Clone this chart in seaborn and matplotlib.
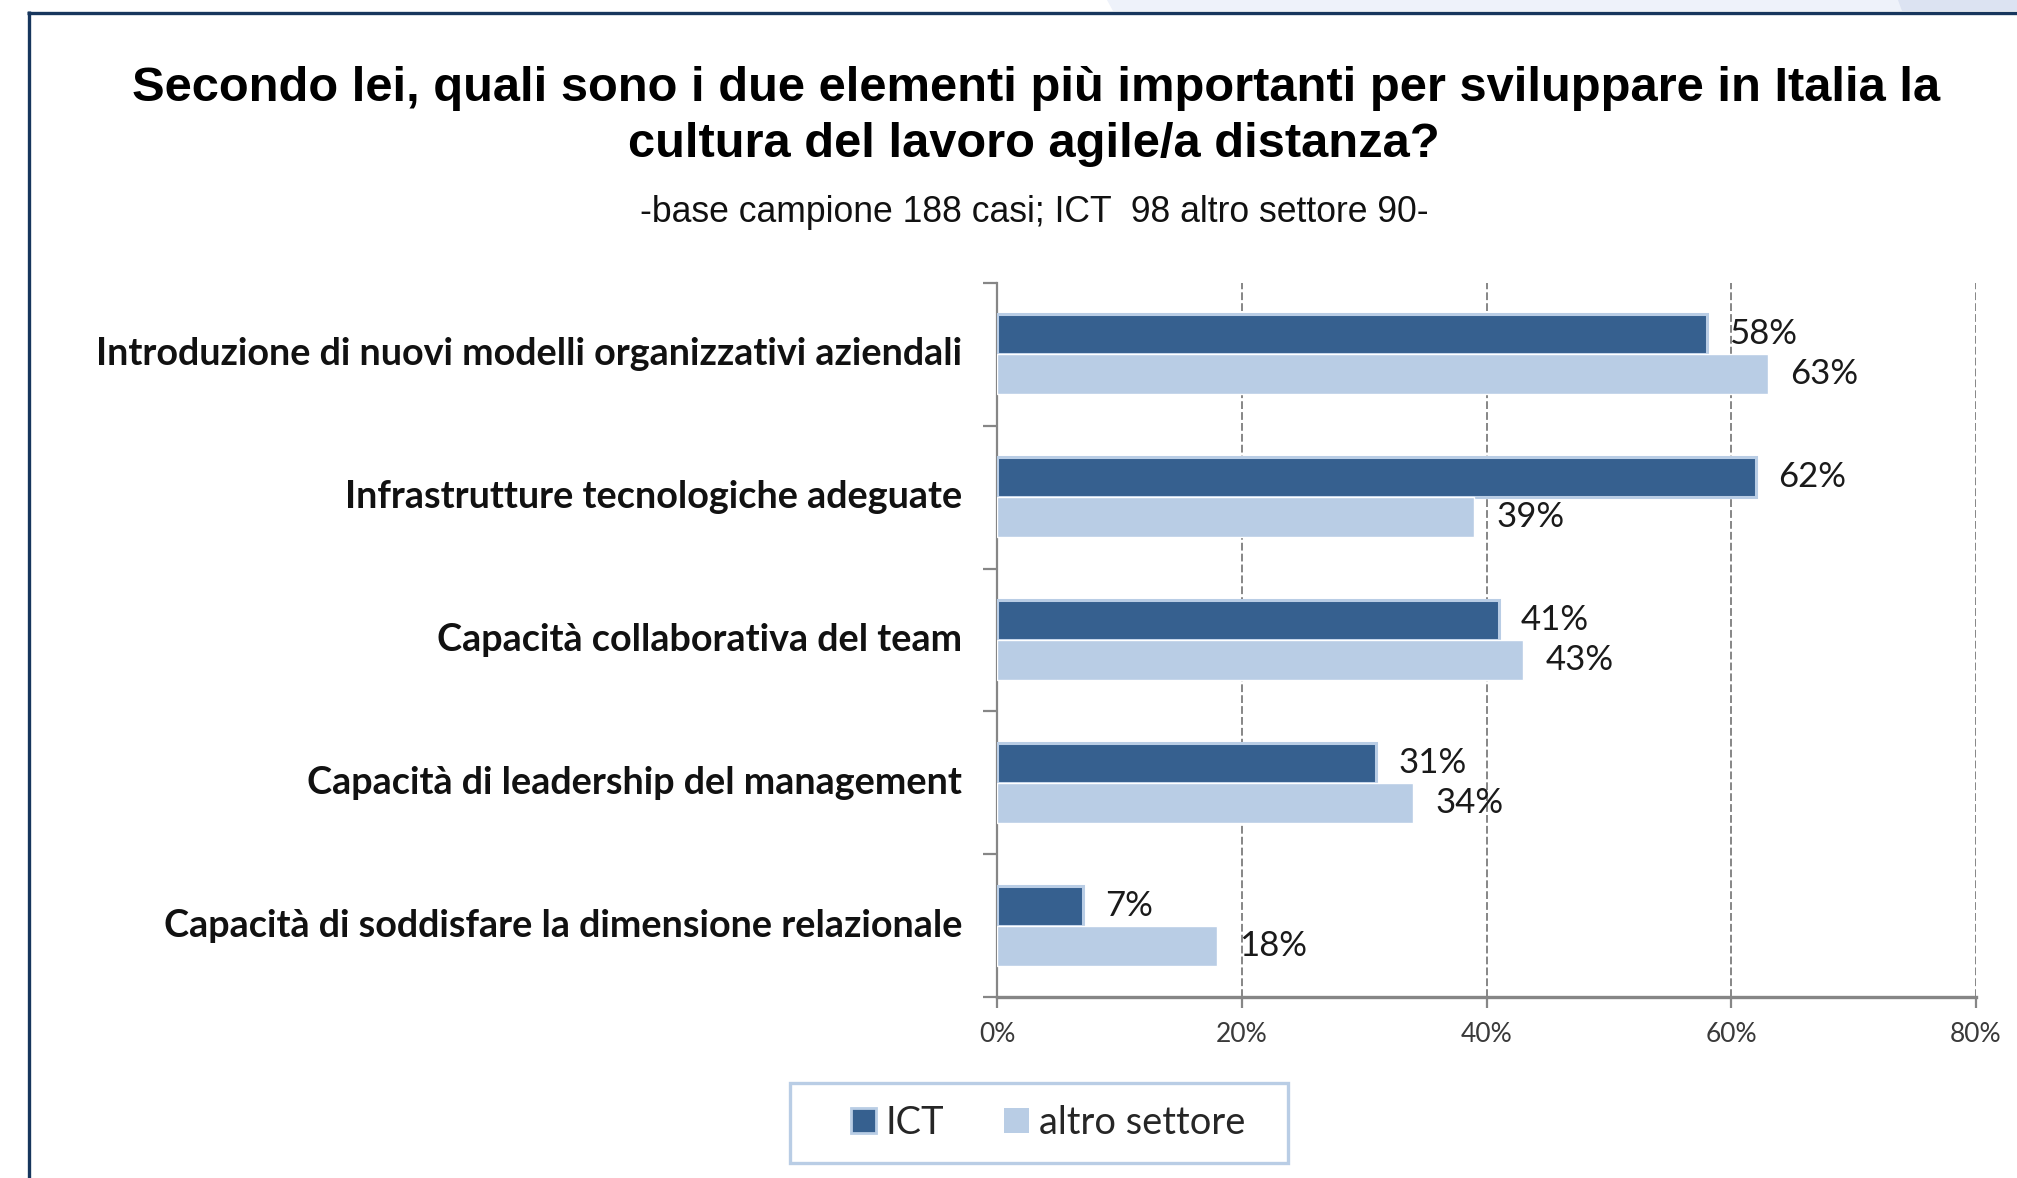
import matplotlib
matplotlib.use("Agg")
import matplotlib.pyplot as plt
from matplotlib.patches import Rectangle, Patch, Polygon
from matplotlib.lines import Line2D
import seaborn as sns
import pandas as pd

# ---------------- data ----------------
categories = [
    "Introduzione di nuovi modelli organizzativi aziendali",
    "Infrastrutture tecnologiche adeguate",
    "Capacità collaborativa del team",
    "Capacità di leadership del management",
    "Capacità di soddisfare la dimensione relazionale",
]
series_names = ["ICT", "altro settore"]
ict_values = [58, 62, 41, 31, 7]
altro_values = [63, 39, 43, 34, 18]
x_ticks = [0, 20, 40, 60, 80]
x_tick_labels = ["0%", "20%", "40%", "60%", "80%"]
title_line1 = "Secondo lei, quali sono i due elementi più importanti per sviluppare in Italia la"
title_line2 = "cultura del lavoro agile/a distanza?"
subtitle = "-base campione 188 casi; ICT  98 altro settore 90-"

# ---------------- style ----------------
sns.set_style("white")
plt.rcParams["font.family"] = ["Liberation Sans", "DejaVu Sans"]

DARK = "#36608F"
LIGHT = "#B9CDE5"
GRID = "#868686"
NAVY = "#17365D"
LABEL_FONT = ["Lato", "DejaVu Sans"]

W, H = 2017, 1178
fig = plt.figure(figsize=(W / 100, H / 100), dpi=100)
fig.patch.set_facecolor("white")

def fx(px):
    return px / W

def fy(py):
    return 1 - py / H

ax = fig.add_axes([fx(997), fy(997), fx(1976) - fx(997), fy(283) - fy(997)])

df = pd.DataFrame({
    "categoria": categories * 2,
    "valore": ict_values + altro_values,
    "serie": [series_names[0]] * len(categories) + [series_names[1]] * len(categories),
})

sns.barplot(
    data=df, x="valore", y="categoria", hue="serie",
    order=categories, hue_order=series_names,
    palette=[DARK, LIGHT], saturation=1, width=0.56,
    orient="h", errorbar=None, legend=False, ax=ax, zorder=3,
)

# ICT bars have a light outline
for bar in ax.containers[0]:
    bar.set_edgecolor(LIGHT)
    bar.set_linewidth(2.2)

for cont, vals in zip(ax.containers, [ict_values, altro_values]):
    ax.bar_label(cont, labels=[f"{v}%" for v in vals], padding=16,
                 fontsize=25, family=LABEL_FONT, color="#1a1a1a")

ax.set_xlim(0, 80)
ax.set_ylim(len(categories) - 0.5, -0.5)
ax.set_xticks(x_ticks)
ax.set_xticklabels(x_tick_labels)
ax.set_yticks(range(len(categories)))
ax.set_yticklabels(categories, family=LABEL_FONT, fontweight="bold", fontsize=27.2, color="#111111")
for lab in ax.get_yticklabels():
    lab.set_va("center")
ax.set_yticks([i - 0.5 for i in range(len(categories) + 1)], minor=True)
ax.set_xlabel("")
ax.set_ylabel("")

ax.tick_params(axis="y", which="major", length=0, pad=25)
ax.tick_params(axis="y", which="minor", length=10, width=1.6, color=GRID, left=True)
ax.tick_params(axis="x", which="major", length=8, width=1.6, color=GRID, pad=10,
               labelsize=19, labelcolor="#3a3a3a", bottom=True)
for lab in ax.get_xticklabels():
    lab.set_family(LABEL_FONT)

ax.xaxis.grid(True, linestyle=(0, (4, 1.6)), color=GRID, linewidth=1.4, zorder=1)
ax.yaxis.grid(False)
ax.set_axisbelow(True)
for s in ["top", "right"]:
    ax.spines[s].set_visible(False)
ax.spines["left"].set_color(GRID)
ax.spines["left"].set_linewidth(1.6)
ax.spines["bottom"].set_color(GRID)
ax.spines["bottom"].set_linewidth(2.4)

# ---------------- titles ----------------
fig.text(fx(1036), fy(101), title_line1, ha="center", va="baseline",
         fontsize=35.2, fontweight="bold", color="black")
fig.text(fx(1034), fy(157), title_line2, ha="center", va="baseline",
         fontsize=35.2, fontweight="bold", color="black")
fig.text(fx(1034), fy(222), subtitle, ha="center", va="baseline",
         fontsize=25.6, color="#111111")

# ---------------- slide frame ----------------
fig.add_artist(Polygon([[fx(1107), fy(0)], [fx(2017), fy(0)], [fx(2017), fy(11)], [fx(1113), fy(11)]],
                       closed=True, transform=fig.transFigure, facecolor="#EEF2FA", edgecolor="none"))
fig.add_artist(Polygon([[fx(1898), fy(0)], [fx(2017), fy(0)], [fx(2017), fy(11)], [fx(1902), fy(11)]],
                       closed=True, transform=fig.transFigure, facecolor="#DCE3F2", edgecolor="none"))
fig.add_artist(Line2D([fx(27), fx(2017)], [fy(12.5), fy(12.5)], transform=fig.transFigure,
                      color=NAVY, linewidth=2.4, solid_capstyle="butt"))
fig.add_artist(Line2D([fx(28.5), fx(28.5)], [fy(11), fy(1178)], transform=fig.transFigure,
                      color=NAVY, linewidth=2.4, solid_capstyle="butt"))

# ---------------- legend ----------------
fig.add_artist(Rectangle((fx(790), fy(1163)), fx(1288) - fx(790), fy(1083) - fy(1163),
                         transform=fig.transFigure, facecolor="white", edgecolor=LIGHT, linewidth=2.4))
leg_fs = 27.4
px_per_em = leg_fs * 100 / 72
handles = [Patch(facecolor=DARK, edgecolor=LIGHT, linewidth=2.0),
           Patch(facecolor=LIGHT, edgecolor=LIGHT, linewidth=0)]
fig.legend(handles=handles, labels=series_names, loc="center",
           bbox_to_anchor=(fx(1048), fy(1123)), ncol=2, frameon=False,
           prop={"family": LABEL_FONT, "size": leg_fs},
           handlelength=25 / px_per_em, handleheight=25 / px_per_em,
           handletextpad=10 / px_per_em, columnspacing=60 / px_per_em,
           borderpad=0, borderaxespad=0)

fig.savefig("out.png", dpi=100, facecolor="white")
